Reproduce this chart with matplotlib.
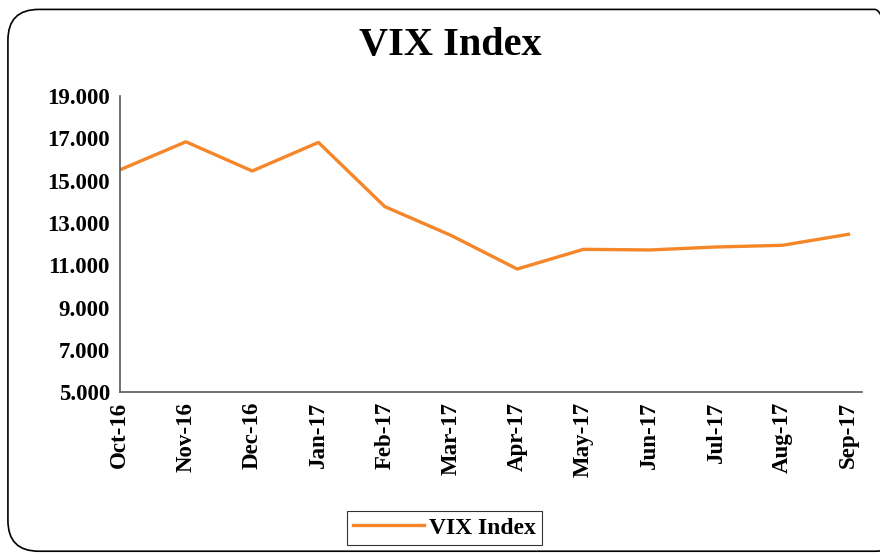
import matplotlib.pyplot as plt
from matplotlib.patches import FancyBboxPatch

# --- Data ---
months = ['Oct-16', 'Nov-16', 'Dec-16', 'Jan-17', 'Feb-17', 'Mar-17',
          'Apr-17', 'May-17', 'Jun-17', 'Jul-17', 'Aug-17', 'Sep-17']
vix = [15.50, 16.83, 15.45, 16.80, 13.77, 12.41,
       10.82, 11.75, 11.72, 11.86, 11.94, 12.46]
y_ticks = [5, 7, 9, 11, 13, 15, 17, 19]
y_tick_labels = ['5.000', '7.000', '9.000', '11.000', '13.000', '15.000', '17.000', '19.000']

ORANGE = '#F5862A'
plt.rcParams['font.family'] = ['Liberation Serif', 'DejaVu Serif']

fig = plt.figure(figsize=(8.8, 5.54), dpi=100)
ax = fig.add_axes([0.136, 0.292, 0.844, 0.535])

# rounded chart border
border = FancyBboxPatch((0.009, 0.005), 1.02, 0.978, transform=fig.transFigure,
                        boxstyle='round,pad=0,rounding_size=0.035',
                        facecolor='none', edgecolor='black', linewidth=1.2,
                        mutation_aspect=880 / 554)
fig.patches.append(border)

x = list(range(len(months)))
ax.plot(x, vix, color=ORANGE, linewidth=2.4, label='VIX Index')

ax.set_xlim(0, len(months) - 1 + 0.21)
ax.set_ylim(5, 19)
ax.set_yticks(y_ticks)
ax.set_yticklabels(y_tick_labels, fontsize=16.5, fontweight='bold')
ax.set_xticks(x)
ax.set_xticklabels(months, rotation=90, fontsize=16.5, fontweight='bold')
ax.tick_params(axis='both', length=0, pad=7)

for side in ['top', 'right']:
    ax.spines[side].set_visible(False)
for side in ['left', 'bottom']:
    ax.spines[side].set_color('#595959')
    ax.spines[side].set_linewidth(1.2)

fig.text(0.512, 0.918, 'VIX Index', ha='center', va='center',
         fontsize=29, fontweight='bold')

leg = fig.legend(loc='center', bbox_to_anchor=(0.505, 0.047), frameon=True,
                 fancybox=False, edgecolor='black', handlelength=3.0,
                 prop={'size': 17, 'weight': 'bold'}, borderpad=0.25,
                 handletextpad=0.2)
leg.get_frame().set_linewidth(0.8)

fig.savefig('out.png', dpi=100)
